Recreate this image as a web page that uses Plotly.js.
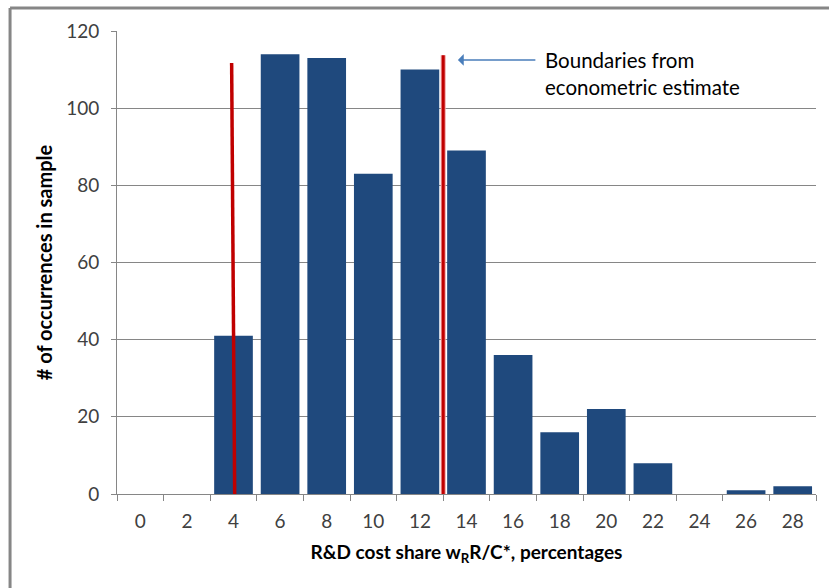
<!DOCTYPE html>
<html>
<head>
<meta charset="utf-8">
<script src="https://cdn.plot.ly/plotly-3.0.1.min.js"></script>
<style>html,body{margin:0;padding:0;background:#fff;}#chart{width:829px;height:588px;}</style>
</head>
<body>
<div id="chart"></div>
<script>
// Data
const categories = ["0","2","4","6","8","10","12","14","16","18","20","22","24","26","28"];
const counts = [0, 0, 41, 114, 113, 83, 110, 89, 36, 16, 22, 8, 0, 1, 2];
// Econometric boundaries (red lines), in percentage units
const boundary1X = [3.92, 4.05];
const boundary1Y = [111.7, 0];
const boundary2X = [13, 13];
const boundary2Y = [113.7, 0];
const noteText = "Boundaries from<br>econometric estimate";
const xTitle = "R&D cost share w<sub>R</sub>R/C*, percentages";
const yTitle = "# of occurrences in sample";

const FONT = "Lato, 'Open Sans', sans-serif";

const traces = [
  {
    type: "bar", x: categories, y: counts,
    marker: {color: "#1f497d", line: {width: 0}},
    hoverinfo: "x+y", showlegend: false
  },
  {
    type: "scatter", mode: "lines", x: boundary1X, y: boundary1Y, xaxis: "x2",
    line: {color: "#c00000", width: 3.5}, showlegend: false, hoverinfo: "skip"
  },
  {
    type: "scatter", mode: "lines", x: boundary2X, y: boundary2Y, xaxis: "x2",
    line: {color: "#f0a0a0", width: 5}, showlegend: false, hoverinfo: "skip"
  },
  {
    type: "scatter", mode: "lines", x: boundary2X, y: boundary2Y, xaxis: "x2",
    line: {color: "#c00000", width: 3}, showlegend: false, hoverinfo: "skip"
  }
];

const layout = {
  width: 829, height: 588,
  margin: {l: 117, r: 13, t: 31, b: 94},
  paper_bgcolor: "#fff", plot_bgcolor: "#fff",
  font: {family: FONT, color: "#404040", size: 19},
  bargap: 0.17,
  xaxis: {
    type: "category", range: [-0.5, 14.5],
    tickson: "boundaries", ticks: "outside", ticklen: 6, tickcolor: "#868686",
    showline: true, linecolor: "#868686", linewidth: 1,
    showgrid: false, zeroline: false,
    tickfont: {size: 19, color: "#404040", family: FONT},
    ticklabelstandoff: 10,
    title: {text: xTitle, font: {size: 19, color: "#000", family: FONT, weight: "bold"}, standoff: 14}
  },
  xaxis2: {
    type: "linear", range: [-1, 29], overlaying: "x", visible: false
  },
  yaxis: {
    range: [0, 120], dtick: 20, tick0: 0,
    ticks: "outside", ticklen: 5, tickcolor: "#868686",
    showline: true, linecolor: "#868686", linewidth: 1,
    showgrid: true, gridcolor: "#868686", gridwidth: 1, zeroline: false,
    tickfont: {size: 19, color: "#404040", family: FONT},
    ticklabelstandoff: 8,
    title: {text: yTitle, font: {size: 20, color: "#000", family: FONT, weight: "bold"}, standoff: 8}
  },
  shapes: [
    {type: "line", xref: "paper", yref: "paper", x0: -0.153, x1: 1.03, y0: 1.0497, y1: 1.0497,
     line: {color: "#868686", width: 3}},
    {type: "line", xref: "paper", yref: "paper", x0: -0.153, x1: -0.153, y0: 1.0497, y1: -0.25,
     line: {color: "#868686", width: 3}}
  ],
  annotations: [
    {xref: "x2", yref: "y", x: 13.63, y: 112.5, ax: 79, ay: 0, text: "",
     showarrow: true, arrowhead: 1, arrowsize: 1.3, arrowwidth: 1.5, arrowcolor: "#4a7ebb"},
    {xref: "paper", yref: "paper", x: (543 - 117) / 699, y: (494 - 73) / 463,
     xanchor: "left", yanchor: "middle", align: "left", showarrow: false,
     text: noteText, font: {size: 20.5, color: "#000", family: FONT}}
  ]
};

Plotly.newPlot("chart", traces, layout, {displayModeBar: false, staticPlot: true});
</script>
</body>
</html>
